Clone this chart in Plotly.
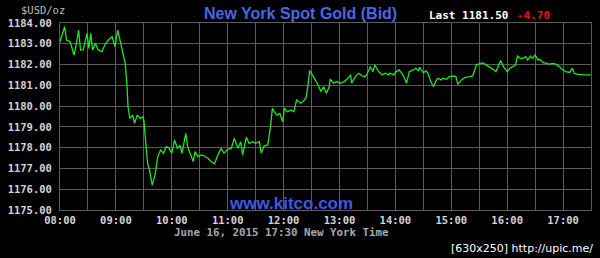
import plotly.graph_objects as go

# ---- data ----
times = ["08:00","08:05","08:07","08:11","08:15","08:17","08:20","08:22","08:25","08:29",
         "08:31","08:33","08:35","08:38","08:41","08:45","08:48","08:52","08:56","08:59",
         "09:02","09:04","09:08","09:10","09:12","09:13","09:15","09:18","09:20","09:23",
         "09:26","09:29","09:30","09:32","09:34","09:36","09:39","09:42","09:45","09:48",
         "09:51","09:54","09:57","10:00","10:03","10:06","10:09","10:11","10:15","10:17",
         "10:21","10:23","10:25","10:28","10:32","10:35","10:39","10:42","10:46","10:49",
         "10:53","10:56","11:00","11:04","11:07","11:11","11:14","11:16","11:20","11:23",
         "11:27","11:30","11:34","11:36","11:39","11:43","11:46","11:48","11:50","11:53",
         "11:56","11:59","12:01","12:04","12:08","12:11","12:14","12:18","12:21","12:24",
         "12:26","12:28","12:32","12:36","12:38","12:40","12:43","12:46","12:49","12:50",
         "12:54","12:57","13:01","13:05","13:08","13:12","13:13","13:17","13:21","13:24",
         "13:28","13:30","13:33","13:36","13:38","13:42","13:46","13:49","13:53","13:54",
         "13:58","14:01","14:04","14:07","14:09","14:12","14:15","14:19","14:22","14:25",
         "14:26","14:30","14:33","14:35","14:38","14:41","14:44","14:46","14:49","14:51",
         "14:55","14:58","15:02","15:05","15:07","15:11","15:15","15:20","15:23","15:27",
         "15:31","15:34","15:38","15:41","15:45","15:48","15:53","15:56","16:00","16:03",
         "16:06","16:09","16:11","16:14","16:17","16:20","16:22","16:25","16:27","16:30",
         "16:33","16:35","16:39","16:42","16:45","16:49","16:52","16:56","16:59","17:03",
         "17:07","17:10","17:12","17:16","17:21","17:30"]
prices = [1183.10,1183.82,1183.18,1183.10,1182.46,1182.86,1183.66,1182.70,1182.72,1183.50,
          1182.78,1183.50,1182.70,1183.02,1182.70,1182.62,1182.94,1183.18,1183.34,1182.86,
          1183.66,1183.26,1182.62,1182.06,1180.93,1179.97,1179.41,1179.57,1179.17,1179.57,
          1179.41,1179.49,1179.33,1178.05,1177.25,1176.93,1176.20,1176.69,1177.57,1177.89,
          1177.73,1178.05,1177.97,1177.73,1178.37,1177.97,1178.10,1177.73,1178.69,1178.05,
          1177.57,1177.33,1177.81,1177.57,1177.65,1177.60,1177.49,1177.33,1177.22,1177.60,
          1177.97,1177.73,1177.92,1177.97,1178.45,1177.97,1178.29,1177.65,1178.50,1178.21,
          1178.29,1178.21,1178.29,1177.73,1178.08,1178.13,1179.01,1179.90,1179.73,1179.57,
          1179.65,1179.25,1179.90,1179.73,1179.81,1179.73,1180.30,1180.14,1180.22,1180.38,
          1180.94,1181.71,1181.42,1181.10,1180.93,1180.70,1180.93,1180.62,1180.93,1181.29,
          1181.10,1181.18,1181.10,1181.18,1181.29,1181.50,1181.10,1181.42,1181.58,1181.45,
          1181.42,1181.58,1181.90,1181.66,1181.98,1181.66,1181.50,1181.58,1181.50,1181.58,
          1181.50,1181.66,1181.74,1181.58,1181.42,1181.10,1181.66,1181.74,1181.82,1181.70,
          1181.87,1181.60,1181.70,1181.58,1181.18,1180.93,1181.26,1181.34,1181.26,1181.34,
          1181.29,1181.42,1181.45,1181.42,1181.05,1181.26,1181.38,1181.42,1181.45,1181.98,
          1182.06,1182.08,1181.98,1181.90,1181.77,1181.66,1182.19,1181.90,1181.66,1181.82,
          1181.90,1181.98,1182.41,1182.30,1182.30,1182.38,1182.22,1182.41,1182.30,1182.46,
          1182.22,1182.25,1182.09,1182.06,1182.02,1182.06,1182.02,1181.90,1181.77,1181.66,
          1181.62,1181.82,1181.58,1181.53,1181.50,1181.50]
hour_ticks = ["08:00","09:00","10:00","11:00","12:00","13:00","14:00","15:00","16:00","17:00"]
y_ticks = [1175,1176,1177,1178,1179,1180,1181,1182,1183,1184]
day = "2015-06-16"

x = [f"{day} {t}" for t in times]

W, H = 600, 258
L, R, T, B = 58, 8, 23, 48
pw, ph = W - L - R, H - T - B

def px(xp):
    return (xp - L) / pw

def py(yp):
    return (H - B - yp) / ph

fig = go.Figure()
fig.add_trace(go.Scatter(x=x, y=prices, mode="lines",
                         line=dict(color="#22e622", width=1.3), hoverinfo="skip"))

grid = "#5c5c5c"
mono = "DejaVu Sans Mono"
fig.update_layout(
    width=W, height=H,
    margin=dict(l=L, r=R, t=T, b=B),
    paper_bgcolor="black", plot_bgcolor="black",
    showlegend=False,
    xaxis=dict(
        range=[f"{day} 08:00", f"{day} 17:30"],
        tickvals=[f"{day} {t}" for t in hour_ticks], ticktext=hour_ticks,
        showgrid=True, gridcolor=grid, gridwidth=1,
        minor=dict(dtick=1800000, showgrid=True, gridcolor=grid, gridwidth=1),
        showline=True, linecolor=grid, mirror=True,
        ticks="", ticklabelstandoff=0,
        tickfont=dict(family=mono, size=10.5, color="#d4d4d4", weight="bold"),
        zeroline=False,
    ),
    yaxis=dict(
        range=[1175, 1184], tickvals=y_ticks, tickformat=".2f",
        showgrid=True, gridcolor=grid, gridwidth=1,
        showline=True, linecolor=grid, mirror=True,
        ticks="", ticklabelstandoff=5,
        tickfont=dict(family=mono, size=10.5, color="#d4d4d4", weight="bold"),
        zeroline=False,
    ),
)

ann = [
    dict(text="New York Spot Gold (Bid)", x=px(300), y=py(13), xanchor="center", yanchor="middle",
         font=dict(family="Liberation Sans", size=16, color="#4a66e8", weight="bold")),
    dict(text="Last 1181.50", x=px(427), y=py(15), xanchor="left", yanchor="middle",
         font=dict(family=mono, size=11, color="#ffffff", weight="bold")),
    dict(text="-4.70", x=px(516), y=py(15), xanchor="left", yanchor="middle",
         font=dict(family=mono, size=11, color="#ee1111", weight="bold")),
    dict(text="$USD/oz", x=px(40.5), y=py(10.5), xanchor="center", yanchor="middle",
         font=dict(family=mono, size=10.5, color="#bbbbbb")),
    dict(text="www.kitco.com", x=px(290), y=py(203), xanchor="center", yanchor="middle",
         font=dict(family="Liberation Sans", size=17, color="#3c5ae0", weight="bold")),
    dict(text="June 16, 2015 17:30 New York Time", x=px(281), y=py(232.5), xanchor="center", yanchor="middle",
         font=dict(family=mono, size=10.8, color="#a8a8a8", weight="bold")),
    dict(text="[630x250] http://upic.me/", x=px(596), y=py(248), xanchor="right", yanchor="middle",
         font=dict(family="DejaVu Sans", size=11, color="#ffffff")),
]
for a in ann:
    a.update(xref="paper", yref="paper", showarrow=False)
fig.update_layout(annotations=ann)

fig.write_html("out.html")
